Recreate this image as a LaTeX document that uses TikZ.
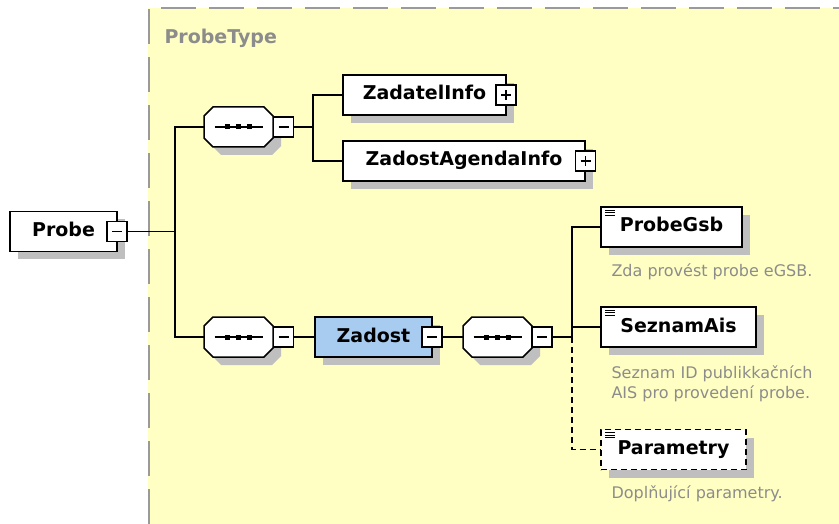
\documentclass[tikz,border=0pt]{standalone}
\usepackage{fontspec}
\setmainfont{DejaVu Sans}
\usetikzlibrary{shadows}
\definecolor{typebg}{HTML}{FFFFC4}
\definecolor{typeline}{HTML}{9A9A9A}
\definecolor{elemblue}{HTML}{A8CCF0}
\definecolor{doctext}{HTML}{8C8C8C}

\tikzset{
    shade/.style={drop shadow={shadow xshift=8pt, shadow yshift=-8pt, fill=black!25, opacity=1}},
    elem/.style={draw, line width=1.5pt, fill=white, shade, minimum height=40pt, inner sep=0pt,
        text height=14pt, text depth=4pt, font=\fontsize{19}{22}\selectfont\bfseries},
    leaf/.style={elem, path picture={
        \foreach \k in {3pt,5.5pt,8pt}
            \draw[solid, line width=0.9pt] ([shift={(4pt,-\k)}]path picture bounding box.north west) -- ++(10pt,0);}},
    optional/.style={dash pattern=on 6pt off 4pt},
    seq/.style={minimum width=69pt, minimum height=40pt, inner sep=0pt},
    minus/.style={draw, line width=1.2pt, fill=white, minimum size=20pt, inner sep=0pt, path picture={
        \draw[line width=1.2pt] ([xshift=-5pt]path picture bounding box.center) -- ([xshift=5pt]path picture bounding box.center);}},
    plus/.style={draw, line width=1.2pt, fill=white, minimum size=20pt, inner sep=0pt, path picture={
        \draw[line width=1.2pt] ([xshift=-5pt]path picture bounding box.center) -- ([xshift=5pt]path picture bounding box.center);
        \draw[line width=1.2pt] ([yshift=-5pt]path picture bounding box.center) -- ([yshift=5pt]path picture bounding box.center);}},
    doc/.style={anchor=west, align=left, text=doctext, font=\fontsize{16}{20}\selectfont},
    link/.style={line width=1.5pt}
}

% octagon of a sequence, drawn round a named node
\newcommand{\seqshape}[1]{%
    \begin{scope}[shift={(#1.center)}]
        \fill[black!25, shift={(8,8)}] (-34.5,-11) -- (-25.5,-20) -- (25.5,-20) -- (34.5,-11)
            -- (34.5,11) -- (25.5,20) -- (-25.5,20) -- (-34.5,11) -- cycle;
        \filldraw[fill=white, line width=1.5pt] (-34.5,-11) -- (-25.5,-20) -- (25.5,-20) -- (34.5,-11)
            -- (34.5,11) -- (25.5,20) -- (-25.5,20) -- (-34.5,11) -- cycle;
        \draw[line width=1.2pt] (-24,0) -- (24,0);
        \foreach \d in {-11,0,11}
            \fill[black] (\d-2.5,-2.5) rectangle ++(5,5);
    \end{scope}}

\begin{document}
\begin{tikzpicture}[x=1pt, y=-1pt]
        \useasboundingbox (0,0) rectangle (839,524);

        % type area
        \fill[typebg] (148,8) rectangle (839,524);
        \draw[typeline, line width=2.5pt, dash pattern=on 35pt off 13pt] (149,524) -- (149,8) -- (839,8);
        % label
        \node[anchor=base west, text=doctext, font=\fontsize{19}{22}\selectfont\bfseries] (typename) at (161,44) {ProbeType};

        % root element
        \node[elem, minimum width=107pt] (probe) at (63.5,231.5) {Probe};
        \node[minus] (probetgl) at (117,231.5) {};

        % first sequence
        \node[seq] (seqa) at (238.5,127) {};
        \seqshape{seqa}
        \node[minus] (seqatgl) at (283.5,127) {};

        \node[elem, minimum width=163pt] (zadatel) at (424.5,95) {ZadatelInfo};
        \node[plus] (zadateltgl) at (506,95) {};

        \node[elem, minimum width=242pt] (agenda) at (464,161) {ZadostAgendaInfo};
        \node[plus] (agendatgl) at (585.5,161) {};

        % second sequence
        \node[seq] (seqb) at (238.5,337) {};
        \seqshape{seqb}
        \node[minus] (seqbtgl) at (283.5,337) {};

        \node[elem, fill=elemblue, minimum width=117pt] (zadost) at (373.5,337) {Zadost};
        \node[minus] (zadosttgl) at (432,337) {};

        % inner sequence
        \node[seq] (seqc) at (497.5,337) {};
        \seqshape{seqc}
        \node[minus] (seqctgl) at (542,337) {};

        % leaf elements
        \node[leaf, minimum width=141pt] (probegsb) at (671.5,227) {ProbeGsb};
        \node[doc] (probegsbdoc) at (608,272) {Zda provést probe eGSB.};

        \node[leaf, minimum width=155pt] (seznam) at (678.5,327) {SeznamAis};
        \node[doc] (seznamdoc) at (608,384) {Seznam ID publikkačních\\AIS pro provedení probe.};

        \node[leaf, optional, minimum width=145pt] (param) at (673.5,449.5) {Parametry};
        \node[doc] (paramdoc) at (608,494) {Doplňující parametry.};

        % junctions
        \coordinate (rootjoin) at (175,231.5);
        \coordinate (seqajoin) at (313,127);
        \coordinate (seqcjoin) at (572,337);

        % lines
        \draw[link] (probetgl.east) -- (rootjoin);
        \draw[link] (seqa.west) -| (rootjoin) |- (seqb.west);
        \draw[link] (seqatgl.east) -- (seqajoin);
        \draw[link] (zadatel.west) -| (seqajoin) |- (agenda.west);
        \draw[link] (seqbtgl.east) -- (zadost.west);
        \draw[link] (zadosttgl.east) -- (seqc.west);
        \draw[link] (seqctgl.east) -- (seqcjoin);
        \draw[link] (probegsb.west) -| (seqcjoin);
        \draw[link] (seznam.west) -| (seqcjoin);
        \draw[link, optional] (seqcjoin) |- (param.west);

    \end{tikzpicture}
\end{document}
